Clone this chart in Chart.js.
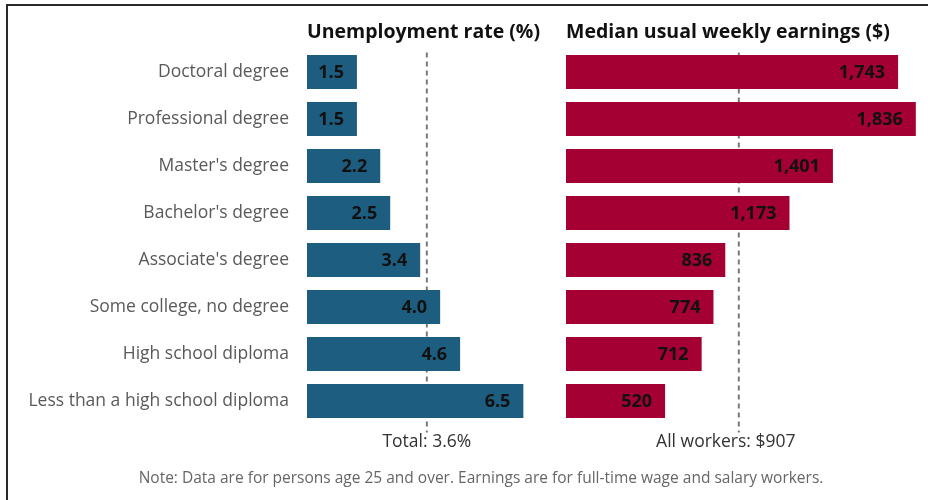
<!DOCTYPE html>
<html>
<head>
<meta charset="utf-8">
<script src="https://cdn.jsdelivr.net/npm/chart.js@4.4.1/dist/chart.umd.min.js"></script>
<style>
  body { margin: 0; background: #fff; }
  #wrap { position: relative; width: 928px; height: 500px; overflow: hidden; background: #fff; }
  #frameTop { position: absolute; left: 6px; top: 4px; width: 922px; height: 2px; background: #2a2a2a; }
  #frameLeft { position: absolute; left: 6px; top: 4px; width: 2px; height: 496px; background: #2a2a2a; }
  #leftBox { position: absolute; left: 0; top: 0; width: 540px; height: 500px; }
  #rightBox { position: absolute; left: 540px; top: 0; width: 388px; height: 500px; }
  #note { position: absolute; left: 0; width: 962px; top: 466px; text-align: center;
          font-family: 'Open Sans', sans-serif; font-size: 15.5px; color: #666; }
</style>
</head>
<body>
<div id="wrap">
  <div id="frameTop"></div>
  <div id="frameLeft"></div>
  <div id="leftBox"><canvas id="rateChart"></canvas></div>
  <div id="rightBox"><canvas id="earnChart"></canvas></div>
  <div id="note">Note: Data are for persons age 25 and over. Earnings are for full-time wage and salary workers.</div>
</div>
<script>
const levels = ['Doctoral degree', 'Professional degree', "Master's degree", "Bachelor's degree",
  "Associate's degree", 'Some college, no degree', 'High school diploma', 'Less than a high school diploma'];
const unemploymentRate = [1.5, 1.5, 2.2, 2.5, 3.4, 4.0, 4.6, 6.5];
const weeklyEarnings = [1743, 1836, 1401, 1173, 836, 774, 712, 520];
const totalRate = 3.6;
const allWorkersEarnings = 907;

const colorBlue = '#1d5e80';
const colorRed = '#a50034';
const fontFamily = "'Open Sans', sans-serif";

// dashed reference line behind the bars, value labels + caption on top
function makeAnnotations(refValue, refText, format, textShift) {
  return {
    id: 'annotations',
    beforeDatasetsDraw(chart) {
      const ctx = chart.ctx;
      const area = chart.chartArea;
      const x = chart.scales.x.getPixelForValue(refValue);
      ctx.save();
      ctx.strokeStyle = '#7a7a7a';
      ctx.lineWidth = 2;
      ctx.setLineDash([5, 4]);
      ctx.beginPath();
      ctx.moveTo(x, area.top + 4);
      ctx.lineTo(x, area.bottom + 8);
      ctx.stroke();
      ctx.restore();
    },
    afterDatasetsDraw(chart) {
      const ctx = chart.ctx;
      const area = chart.chartArea;
      const x = chart.scales.x.getPixelForValue(refValue);
      const meta = chart.getDatasetMeta(0);
      const values = chart.data.datasets[0].data;

      ctx.save();
      ctx.font = 'bold 18px ' + fontFamily;
      ctx.fillStyle = '#111';
      ctx.textAlign = 'right';
      ctx.textBaseline = 'middle';
      meta.data.forEach((bar, i) => {
        ctx.fillText(format(values[i]), bar.x - 13, bar.y + 1);
      });

      ctx.font = '17.5px ' + fontFamily;
      ctx.fillStyle = '#333';
      ctx.textAlign = 'center';
      ctx.fillText(refText, x + textShift, area.bottom + 18);
      ctx.restore();
    }
  };
}

function titleOptions(text) {
  return {
    display: true,
    text: text,
    align: 'start',
    fullSize: false,
    color: '#111',
    font: { family: fontFamily, size: 19.5, weight: 'bold', lineHeight: 1.2 },
    padding: { top: 20.3, bottom: 4.8 }
  };
}

new Chart(document.getElementById('rateChart'), {
  type: 'bar',
  data: {
    labels: levels,
    datasets: [{
      data: unemploymentRate,
      backgroundColor: colorBlue,
      categoryPercentage: 1,
      barPercentage: 0.72
    }]
  },
  options: {
    indexAxis: 'y',
    responsive: true,
    maintainAspectRatio: false,
    animation: false,
    layout: { padding: { top: 0, bottom: 75.5, left: 0, right: 0 } },
    plugins: {
      legend: { display: false },
      tooltip: { enabled: false },
      title: titleOptions('Unemployment rate (%)')
    },
    scales: {
      x: { display: false, min: 0, max: 7 },
      y: {
        grid: { display: false, drawTicks: false },
        border: { display: false },
        ticks: { color: '#595959', padding: 18, font: { family: fontFamily, size: 17.5 } },
        afterFit(scale) { scale.width = 307; }
      }
    }
  },
  plugins: [makeAnnotations(totalRate, 'Total: 3.6%', v => v.toFixed(1), 0)]
});

new Chart(document.getElementById('earnChart'), {
  type: 'bar',
  data: {
    labels: levels,
    datasets: [{
      data: weeklyEarnings,
      backgroundColor: colorRed,
      categoryPercentage: 1,
      barPercentage: 0.72
    }]
  },
  options: {
    indexAxis: 'y',
    responsive: true,
    maintainAspectRatio: false,
    animation: false,
    layout: { padding: { top: 0, bottom: 75.5, left: 26, right: 0 } },
    plugins: {
      legend: { display: false },
      tooltip: { enabled: false },
      title: titleOptions('Median usual weekly earnings ($)')
    },
    scales: {
      x: { display: false, min: 0, max: 1900 },
      y: { display: false }
    }
  },
  plugins: [makeAnnotations(allWorkersEarnings, 'All workers: $907', v => v.toLocaleString('en-US'), -13)]
});
</script>
</body>
</html>
